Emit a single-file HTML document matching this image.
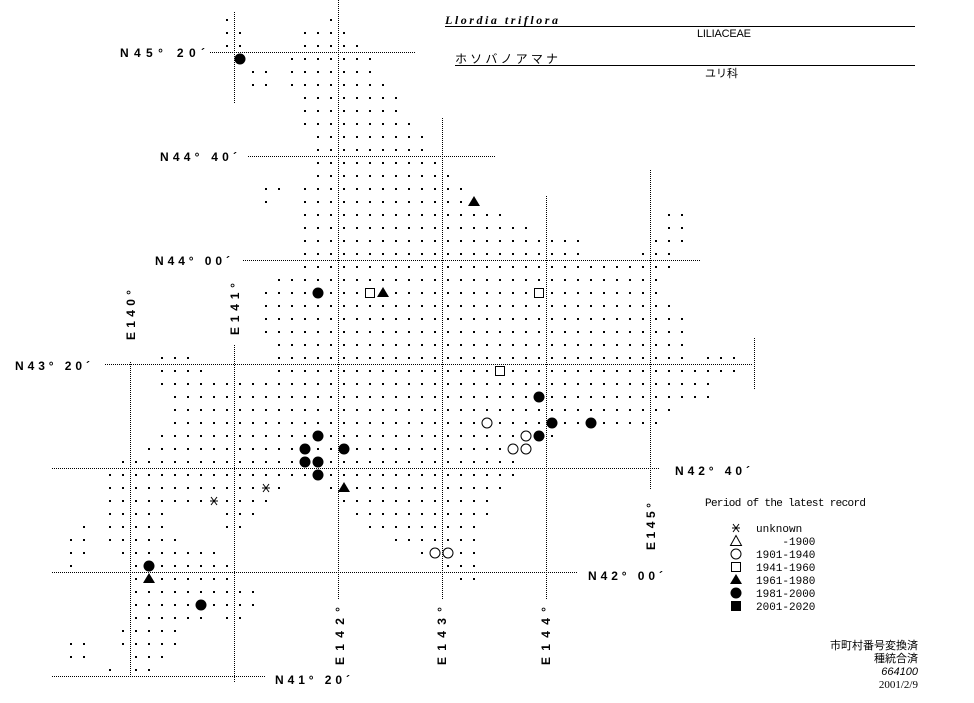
<!DOCTYPE html>
<html><head><meta charset="utf-8"><style>
html,body{margin:0;padding:0;background:#fff;width:974px;height:703px;overflow:hidden}
svg{display:block}
.lab{font-family:"Liberation Sans",sans-serif;font-weight:bold;font-size:12px;fill:#000}
.leg{font-family:"Liberation Mono",monospace;font-size:11px;fill:#000;white-space:pre}
.jp{font-family:"Liberation Sans","Noto Sans CJK JP",sans-serif;font-size:11px;fill:#000}
</style></head><body>
<svg id="s" width="974" height="703" viewBox="0 0 974 703" xmlns="http://www.w3.org/2000/svg">
<g stroke="#000" stroke-width="1" stroke-dasharray="1,1" fill="none">
<line x1="210" y1="52.5" x2="415" y2="52.5"/>
<line x1="248" y1="156.5" x2="495" y2="156.5"/>
<line x1="243" y1="260.5" x2="700" y2="260.5"/>
<line x1="105" y1="364.5" x2="753" y2="364.5"/>
<line x1="52" y1="468.5" x2="660" y2="468.5"/>
<line x1="52" y1="572.5" x2="578" y2="572.5"/>
<line x1="52" y1="676.5" x2="265" y2="676.5"/>
<line x1="130.5" y1="362" x2="130.5" y2="675"/>
<line x1="234.5" y1="12" x2="234.5" y2="103"/>
<line x1="234.5" y1="345" x2="234.5" y2="682"/>
<line x1="338.5" y1="0" x2="338.5" y2="600"/>
<line x1="442.5" y1="118" x2="442.5" y2="600"/>
<line x1="546.5" y1="196" x2="546.5" y2="600"/>
<line x1="650.5" y1="170" x2="650.5" y2="490"/>
<line x1="754.5" y1="338" x2="754.5" y2="390"/>
</g>
<g class="lab">
<text x="120" y="57" textLength="85" lengthAdjust="spacing">N45° 20´</text>
<text x="160" y="161" textLength="77" lengthAdjust="spacing">N44° 40´</text>
<text x="155" y="265" textLength="75" lengthAdjust="spacing">N44° 00´</text>
<text x="15" y="370" textLength="75" lengthAdjust="spacing">N43° 20´</text>
<text x="675" y="475" textLength="75" lengthAdjust="spacing">N42° 40´</text>
<text x="588" y="580" textLength="75" lengthAdjust="spacing">N42° 00´</text>
<text x="275" y="684" textLength="75" lengthAdjust="spacing">N41° 20´</text>
<text transform="translate(135,340) rotate(-90)" textLength="50" lengthAdjust="spacing">E140°</text>
<text transform="translate(239,335) rotate(-90)" textLength="52" lengthAdjust="spacing">E141°</text>
<text transform="translate(344,665) rotate(-90)" textLength="58" lengthAdjust="spacing">E142°</text>
<text transform="translate(446,665) rotate(-90)" textLength="58" lengthAdjust="spacing">E143°</text>
<text transform="translate(550,665) rotate(-90)" textLength="58" lengthAdjust="spacing">E144°</text>
<text transform="translate(655,550) rotate(-90)" textLength="47" lengthAdjust="spacing">E145°</text>
</g>
<text x="445" y="24" style="font-family:'Liberation Serif',serif;font-style:italic;font-weight:bold;font-size:12px" textLength="113" lengthAdjust="spacing">Llordia triflora</text>
<line x1="445" y1="26.5" x2="915" y2="26.5" stroke="#000"/>
<text x="697" y="37" class="jp" textLength="54" lengthAdjust="spacing">LILIACEAE</text>
<text x="455" y="63" class="jp" style="font-size:12px" textLength="103" lengthAdjust="spacing">ホソバノアマナ</text>
<line x1="455" y1="65.5" x2="915" y2="65.5" stroke="#000"/>
<text x="705" y="77" class="jp">ユリ科</text>
<text x="705" y="506" class="leg" textLength="161" lengthAdjust="spacing">Period of the latest record</text>
<text x="756" y="532" class="leg">unknown</text>
<text x="756" y="545" class="leg">    -1900</text>
<text x="756" y="558" class="leg">1901-1940</text>
<text x="756" y="571" class="leg">1941-1960</text>
<text x="756" y="584" class="leg">1961-1980</text>
<text x="756" y="597" class="leg">1981-2000</text>
<text x="756" y="610" class="leg">2001-2020</text>
<g class="jp" text-anchor="end">
<text x="918" y="649">市町村番号変換済</text>
<text x="918" y="662">種統合済</text>
<text x="918" y="675" style="font-style:italic">664100</text>
<text x="918" y="688" style="font-family:'Liberation Serif',serif">2001/2/9</text>
</g>
<g id="d"></g>
</svg>
<script>
var rows={0:[[17,17],[25,25]],1:[[17,18],[23,26]],2:[[17,18],[23,27]],3:[[18,18],[22,28]],4:[[19,20],[22,28]],5:[[19,20],[22,29]],6:[[23,30]],7:[[23,30]],8:[[23,31]],9:[[24,32]],10:[[24,32]],11:[[24,33]],12:[[24,34]],13:[[20,21],[23,35]],14:[[20,20],[23,36]],15:[[23,38],[51,52]],16:[[23,40],[51,52]],17:[[23,44],[50,52]],18:[[23,44],[49,51]],19:[[23,51]],20:[[21,50]],21:[[20,50]],22:[[20,51]],23:[[20,52]],24:[[20,52]],25:[[21,52]],26:[[12,14],[21,52],[54,56]],27:[[12,15],[21,56]],28:[[12,54]],29:[[13,54]],30:[[13,51]],31:[[13,50]],32:[[12,42]],33:[[11,40]],34:[[9,39]],35:[[8,39]],36:[[8,21],[25,38]],37:[[8,20],[26,37]],38:[[8,12],[17,19],[27,37]],39:[[6,6],[8,12],[17,18],[28,36]],40:[[5,6],[8,13],[30,36]],41:[[5,6],[9,16],[32,36]],42:[[5,5],[10,17],[34,36]],43:[[10,17],[35,36]],44:[[10,19]],45:[[10,19]],46:[[10,15],[17,18]],47:[[9,13]],48:[[5,6],[9,13]],49:[[5,6],[10,12]],50:[[8,8],[10,11]]};
var mk={"3,18":"F","14,36":"T","21,24":"F","21,28":"S","21,29":"T","21,41":"S","27,38":"S","29,41":"F","31,37":"O","31,42":"F","31,45":"F","32,24":"F","32,40":"O","32,41":"F","33,23":"F","33,26":"F","33,39":"O","33,40":"O","34,23":"F","34,24":"F","35,24":"F","36,20":"A","36,26":"T","37,16":"A","41,33":"O","41,34":"O","42,11":"F","43,11":"T","45,15":"F"};
var h=[];
function sym(t,x,y){
 if(t=="F")return '<circle cx="'+x+'" cy="'+y+'" r="5.5" fill="#000"/>';
 if(t=="O")return '<circle cx="'+x+'" cy="'+y+'" r="5" fill="#fff" stroke="#000"/>';
 if(t=="S")return '<rect x="'+(x-4.5)+'" y="'+(y-4.5)+'" width="9" height="9" fill="#fff" stroke="#000"/>';
 if(t=="FS")return '<rect x="'+(x-5)+'" y="'+(y-5)+'" width="10" height="10" fill="#000"/>';
 if(t=="T")return '<polygon points="'+x+','+(y-6)+' '+(x-6)+','+(y+4)+' '+(x+6)+','+(y+4)+'" fill="#000"/>';
 if(t=="OT")return '<polygon points="'+x+','+(y-5.5)+' '+(x-5.5)+','+(y+4.5)+' '+(x+5.5)+','+(y+4.5)+'" fill="#fff" stroke="#000"/>';
 if(t=="A")return '<g stroke="#000"><line x1="'+(x-4)+'" y1="'+y+'" x2="'+(x+4)+'" y2="'+y+'"/><line x1="'+(x-3)+'" y1="'+(y-4)+'" x2="'+(x+3)+'" y2="'+(y+4)+'"/><line x1="'+(x+3)+'" y1="'+(y-4)+'" x2="'+(x-3)+'" y2="'+(y+4)+'"/></g>';
}
for(var m in rows){rows[m].forEach(function(r){for(var n=r[0];n<=r[1];n++){var x=6+13*n,y=20+13*(+m),k=m+","+n;
 if(mk[k])h.push(sym(mk[k],x,y));else h.push('<rect x="'+(x-1)+'" y="'+(y-1)+'" width="2" height="2" fill="#000"/>');}});}
var L=[["A",528],["OT",541],["O",554],["S",567],["T",580],["F",593],["FS",606]];
L.forEach(function(a){h.push(sym(a[0],736,a[1]));});
document.getElementById("d").innerHTML=h.join("");
</script>
</body></html>
